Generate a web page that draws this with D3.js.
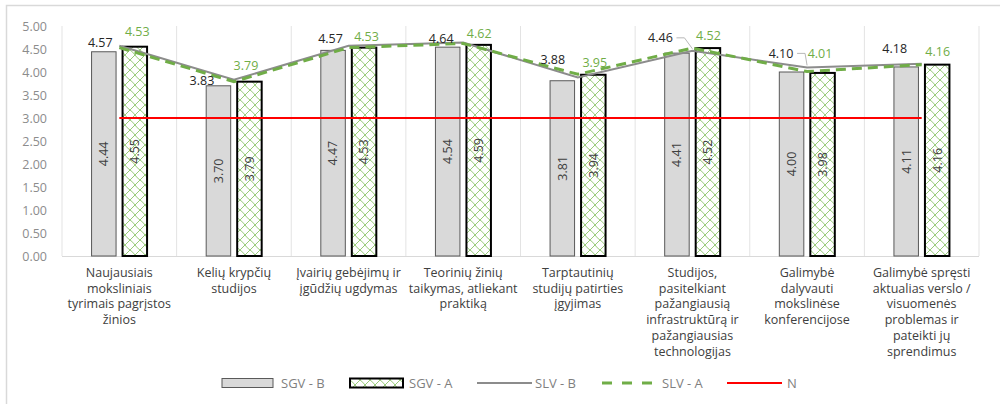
<!DOCTYPE html>
<html>
<head>
<meta charset="utf-8">
<script src="https://cdn.jsdelivr.net/npm/d3@7"></script>
<style>
  html, body { margin: 0; padding: 0; background: #fff; }
  svg { display: block; font-family: "Open Sans", "Noto Sans", sans-serif; }
</style>
</head>
<body>
<svg id="chart" width="1000" height="404"></svg>
<script>
// Category labels, already wrapped into lines
const categories = [
  ["Naujausiais", "moksliniais", "tyrimais pagrįstos", "žinios"],
  ["Kelių krypčių", "studijos"],
  ["Įvairių gebėjimų ir", "įgūdžių ugdymas"],
  ["Teorinių žinių", "taikymas, atliekant", "praktiką"],
  ["Tarptautinių", "studijų patirties", "įgyjimas"],
  ["Studijos,", "pasitelkiant", "pažangiausią", "infrastruktūrą ir", "pažangiausias", "technologijas"],
  ["Galimybė", "dalyvauti", "mokslinėse", "konferencijose"],
  ["Galimybė spręsti", "aktualias verslo /", "visuomenės", "problemas ir", "pateikti jų", "sprendimus"]
];

// Series values
const sgvB = [4.44, 3.70, 4.47, 4.54, 3.81, 4.41, 4.00, 4.11];
const sgvA = [4.55, 3.79, 4.53, 4.59, 3.94, 4.52, 3.98, 4.16];
const slvB = [4.57, 3.83, 4.57, 4.64, 3.88, 4.46, 4.10, 4.18];
const slvA = [4.53, 3.79, 4.53, 4.62, 3.95, 4.52, 4.01, 4.16];
const normValue = 3.00;

const yTicks = [0, 0.5, 1, 1.5, 2, 2.5, 3, 3.5, 4, 4.5, 5];
const legendLabels = ["SGV - B", "SGV - A", "SLV - B", "SLV - A", "N"];

// Hand-placed label nudges for the line value labels (dx, dy from the point)
const slvBLabelNudge = [[-19, -3], [-32, 1], [-18, -7], [-22, -4], [-25, -18], [-32, -13], [-26, -14], [-27, -15]];
const slvALabelNudge = [[18, -16], [12, -16], [18, -11], [16, -10], [17, -12], [16, -12], [13, -18], [16, -13]];
const leaderLines = [false, false, false, false, false, true, true, false];

const svg = d3.select("#chart");
const margin = { left: 62, right: 21, top: 26, plotBottom: 256 };
const width = 1000;

const green = "#70AD47";
const grayLine = "#8C8C8C";

// outer chart frame
svg.append("rect")
  .attr("x", 6.5).attr("y", 5.5)
  .attr("width", 1000).attr("height", 420)
  .attr("fill", "none").attr("stroke", "#D9D9D9").attr("stroke-width", 1.5);

// trellis pattern for SGV - A
const defs = svg.append("defs");
const pat = defs.append("pattern")
  .attr("id", "hatchA")
  .attr("patternUnits", "userSpaceOnUse")
  .attr("width", 10).attr("height", 10);
pat.append("rect").attr("width", 10).attr("height", 10).attr("fill", "#fff");
pat.append("path")
  .attr("d", "M0,10 L10,0 M-2,2 L2,-2 M8,12 L12,8 M0,0 Q3,2 5,5 Q7,8 10,10")
  .attr("stroke", "#8CC56A").attr("stroke-width", 0.9).attr("fill", "none");

const x = d3.scaleBand()
  .domain(d3.range(categories.length))
  .range([margin.left, width - margin.right])
  .padding(0);

const y = d3.scaleLinear().domain([0, 5]).range([margin.plotBottom, margin.top]);

const g = svg.append("g");

// vertical category separators
const bounds = d3.range(categories.length + 1).map(i => margin.left + i * x.bandwidth());
g.selectAll("line.sep").data(bounds).join("line")
  .attr("class", "sep")
  .attr("x1", d => d).attr("x2", d => d)
  .attr("y1", y(5)).attr("y2", y(0))
  .attr("stroke", "#E3E3E3").attr("stroke-width", 1);

// baseline
g.append("line")
  .attr("x1", margin.left).attr("x2", width - margin.right)
  .attr("y1", y(0) + 0.5).attr("y2", y(0) + 0.5)
  .attr("stroke", "#D9D9D9").attr("stroke-width", 1);

// y axis labels
const yAxis = d3.axisLeft(y).tickValues(yTicks).tickFormat(d3.format(".2f")).tickSize(0).tickPadding(15);
const ya = g.append("g").attr("transform", `translate(${margin.left},0)`).call(yAxis);
ya.select(".domain").remove();
ya.selectAll("text")
  .attr("fill", "#8C8C8C")
  .style("font-size", "12.5px")
  .style("font-family", "'Open Sans', sans-serif");

const cx = i => x(i) + x.bandwidth() / 2;
const barW = 24.5;
const barOff = 15.5;

// SGV - B bars
g.selectAll("rect.barB").data(sgvB).join("rect")
  .attr("class", "barB")
  .attr("x", (d, i) => cx(i) - barOff - barW / 2)
  .attr("y", d => y(d))
  .attr("width", barW)
  .attr("height", d => y(0) - y(d))
  .attr("fill", "#D9D9D9").attr("stroke", "#595959").attr("stroke-width", 1);

// SGV - A bars
g.selectAll("rect.barA").data(sgvA).join("rect")
  .attr("class", "barA")
  .attr("x", (d, i) => cx(i) + barOff - barW / 2)
  .attr("y", d => y(d))
  .attr("width", barW)
  .attr("height", d => y(0) - y(d))
  .attr("fill", "url(#hatchA)").attr("stroke", "#000").attr("stroke-width", 2);

// rotated value labels inside bars
function barLabels(data, offset, cls) {
  g.selectAll("text." + cls).data(data).join("text")
    .attr("class", cls)
    .attr("transform", (d, i) => `translate(${cx(i) + offset},${(y(0) + y(d)) / 2}) rotate(-90)`)
    .attr("text-anchor", "middle")
    .attr("dy", "0.35em")
    .attr("fill", "#404040")
    .style("font-size", "12.5px")
    .style("font-family", "'Open Sans', sans-serif")
    .text(d => d.toFixed(2));
}
barLabels(sgvB, -barOff, "lblB");
barLabels(sgvA, barOff, "lblA");

// N reference line
g.append("line")
  .attr("x1", cx(0)).attr("x2", cx(categories.length - 1))
  .attr("y1", y(normValue)).attr("y2", y(normValue))
  .attr("stroke", "#FF0000").attr("stroke-width", 2);

const line = d3.line().x((d, i) => cx(i)).y(d => y(d));

// SLV - B line
g.append("path").datum(slvB)
  .attr("d", line)
  .attr("fill", "none").attr("stroke", grayLine).attr("stroke-width", 2);

// SLV - A dashed line
g.append("path").datum(slvA)
  .attr("d", line)
  .attr("fill", "none").attr("stroke", green).attr("stroke-width", 3)
  .attr("stroke-dasharray", "10,6");

// leader lines for shifted labels
slvB.forEach((v, i) => {
  if (!leaderLines[i]) return;
  const [dx, dy] = slvBLabelNudge[i];
  const lx = cx(i) + dx + 16, ly = y(v) + dy;
  g.append("path")
    .attr("d", `M${lx},${ly} L${lx + 8},${ly} L${cx(i)},${y(v) - 2}`)
    .attr("fill", "none").attr("stroke", "#A6A6A6").attr("stroke-width", 0.8);
});

// line value labels
g.selectAll("text.vB").data(slvB).join("text")
  .attr("class", "vB")
  .attr("x", (d, i) => cx(i) + slvBLabelNudge[i][0])
  .attr("y", (d, i) => y(d) + slvBLabelNudge[i][1])
  .attr("dy", "0.35em")
  .attr("text-anchor", "middle")
  .attr("fill", "#262626")
  .style("font-size", "12.5px")
  .style("font-family", "'Open Sans', sans-serif")
  .text(d => d.toFixed(2));

g.selectAll("text.vA").data(slvA).join("text")
  .attr("class", "vA")
  .attr("x", (d, i) => cx(i) + slvALabelNudge[i][0])
  .attr("y", (d, i) => y(d) + slvALabelNudge[i][1])
  .attr("dy", "0.35em")
  .attr("text-anchor", "middle")
  .attr("fill", green)
  .style("font-size", "12.5px")
  .style("font-family", "'Open Sans', sans-serif")
  .text(d => d.toFixed(2));

// category labels
const cat = g.selectAll("text.cat").data(categories).join("text")
  .attr("class", "cat")
  .attr("text-anchor", "middle")
  .attr("fill", "#404040")
  .style("font-size", "12.5px")
  .style("font-family", "'Open Sans', sans-serif");
cat.each(function(lines, i) {
  d3.select(this).selectAll("tspan").data(lines).join("tspan")
    .attr("x", cx(i))
    .attr("y", (d, j) => 277 + j * 15.7)
    .text(d => d);
});

// legend
const ly = 383;
const leg = svg.append("g").attr("class", "legend");
const legText = (xPos, txt) => leg.append("text")
  .attr("x", xPos).attr("y", ly).attr("dy", "0.35em")
  .attr("fill", "#7F7F7F")
  .style("font-size", "13px")
  .style("font-family", "'Open Sans', sans-serif")
  .text(txt);

leg.append("rect").attr("x", 222).attr("y", ly - 4.5).attr("width", 51).attr("height", 9)
  .attr("fill", "#D9D9D9").attr("stroke", "#595959").attr("stroke-width", 1);
legText(281, legendLabels[0]);

leg.append("rect").attr("x", 350).attr("y", ly - 4.5).attr("width", 53).attr("height", 9)
  .attr("fill", "url(#hatchA)").attr("stroke", "#000").attr("stroke-width", 2);
legText(409, legendLabels[1]);

leg.append("line").attr("x1", 477).attr("x2", 532).attr("y1", ly).attr("y2", ly)
  .attr("stroke", grayLine).attr("stroke-width", 2);
legText(535, legendLabels[2]);

leg.append("line").attr("x1", 602).attr("x2", 656).attr("y1", ly).attr("y2", ly)
  .attr("stroke", green).attr("stroke-width", 3).attr("stroke-dasharray", "10,10");
legText(662, legendLabels[3]);

leg.append("line").attr("x1", 727).attr("x2", 782).attr("y1", ly).attr("y2", ly)
  .attr("stroke", "#FF0000").attr("stroke-width", 2);
legText(787, legendLabels[4]);
</script>
</body>
</html>
